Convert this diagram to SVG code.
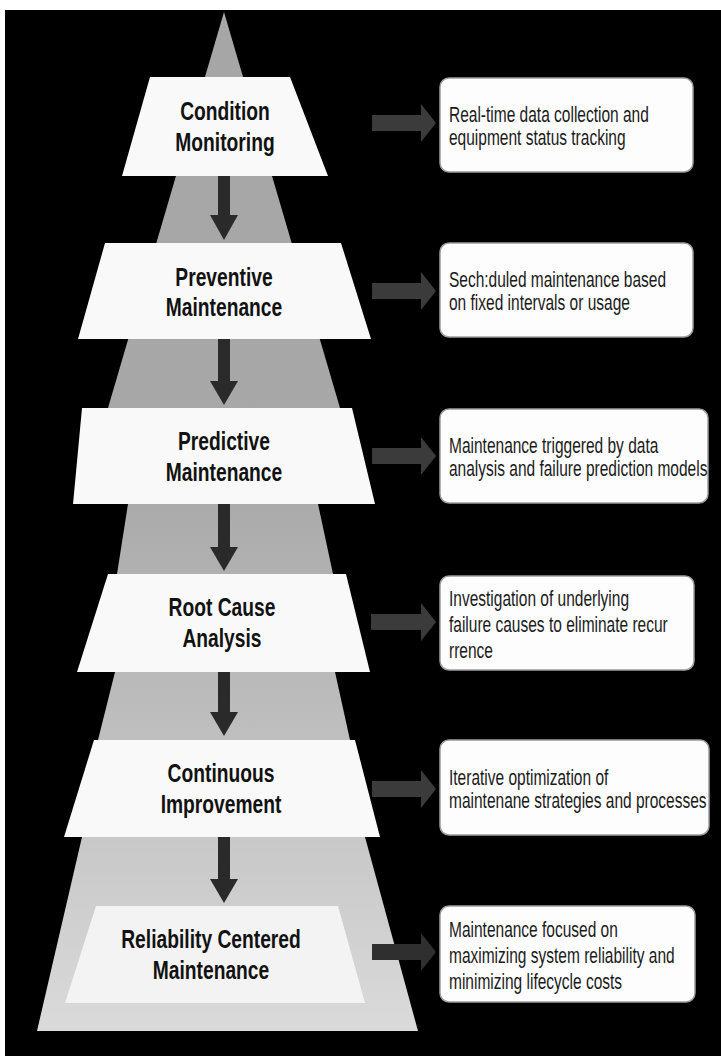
<svg xmlns="http://www.w3.org/2000/svg" width="721" height="1056" viewBox="0 0 721 1056">
  <defs>
    <linearGradient id="pyr" gradientUnits="userSpaceOnUse" x1="0" y1="12" x2="0" y2="1031">
      <stop offset="0" stop-color="#a6a6a6"/>
      <stop offset="0.45" stop-color="#a8a8a8"/>
      <stop offset="0.75" stop-color="#c2c2c2"/>
      <stop offset="1" stop-color="#dadada"/>
    </linearGradient>
    <style>
      .band { fill: url(#pyr); }
      .tier { fill: #f9f9f9; }
      .tier-last { fill: #f3f3f3; }
      .title { font-family: "Liberation Sans", Arial, sans-serif; font-weight: bold; font-size: 26px; fill: #121212; text-anchor: middle; }
      .card { fill: #fdfdfd; stroke: #9c9c9c; stroke-width: 1.5; }
      .desc { font-family: "Liberation Sans", Arial, sans-serif; font-size: 22px; fill: #1b1b1b; }
      .down { fill: #2a2a2a; }
      .side { fill: #3b3b3b; }
      .side-dark { fill: #2f2f2f; }
    </style>
  </defs>

  <!-- canvas -->
  <rect x="0" y="0" width="721" height="1056" fill="#ffffff"/>
  <rect x="5" y="10" width="716" height="1046" fill="#000000"/>

  <!-- pyramid backdrop -->
  <g id="pyramid">
    <polygon class="band" points="224,12 340,408 108,408"/>
    <polygon class="band" points="128,504 318,504 333,574 117,574"/>
    <polygon class="band" points="115,672 335,672 350,740 98,740"/>
    <polygon class="band" points="82,837 365,837 418,1031 37,1031"/>
  </g>

  <!-- connectors -->
  <g id="connectors">
    <!-- downward flow between tiers -->
    <polygon class="down" points="218,176 230,176 230,215 238,215 224,240 210,215 218,215"/>
    <polygon class="down" points="218,339 230,339 230,381 238,381 224,405 210,381 218,381"/>
    <polygon class="down" points="218,504 230,504 230,547 238,547 224,571 210,547 218,547"/>
    <polygon class="down" points="218,672 230,672 230,712 238,712 224,736 210,712 218,712"/>
    <polygon class="down" points="218,837 230,837 230,879 238,879 224,903 210,879 218,879"/>
    <!-- tier to description -->
    <polygon class="side" points="372,115 421,115 421,104 436,123 421,142 421,131 372,131"/>
    <polygon class="side" points="372,283 421,283 421,272 436,291 421,310 421,299 372,299"/>
    <polygon class="side" points="372,448 421,448 421,437 436,456 421,475 421,464 372,464"/>
    <polygon class="side" points="371,614 421,614 421,603 436,622 421,641 421,630 371,630"/>
    <polygon class="side" points="372,781 421,781 421,770 436,789 421,808 421,797 372,797"/>
    <polygon class="side-dark" points="372,944 421,944 421,933 436,952 421,971 421,960 372,960"/>
  </g>

  <!-- tiers -->
  <g id="tier-condition-monitoring">
    <polygon class="tier" points="150,77 290,77 328,176 122,176"/>
    <text class="title" transform="translate(225 0) scale(0.74 1)"><tspan x="0" y="120">Condition</tspan><tspan x="0" y="151">Monitoring</tspan></text>
  </g>
  <g id="tier-preventive">
    <polygon class="tier" points="105,243 341,243 371,339 78,339"/>
    <text class="title" transform="translate(224 0) scale(0.74 1)"><tspan x="0" y="286">Preventive</tspan><tspan x="0" y="316">Maintenance</tspan></text>
  </g>
  <g id="tier-predictive">
    <polygon class="tier" points="82,408 352,408 375,504 73,504"/>
    <text class="title" transform="translate(224 0) scale(0.74 1)"><tspan x="0" y="450">Predictive</tspan><tspan x="0" y="481">Maintenance</tspan></text>
  </g>
  <g id="tier-root-cause">
    <polygon class="tier" points="108,574 346,574 370,672 77,672"/>
    <text class="title" transform="translate(222 0) scale(0.74 1)"><tspan x="0" y="616">Root Cause</tspan><tspan x="0" y="647">Analysis</tspan></text>
  </g>
  <g id="tier-continuous">
    <polygon class="tier" points="94,740 355,740 380,837 64,837"/>
    <text class="title" transform="translate(221 0) scale(0.74 1)"><tspan x="0" y="782">Continuous</tspan><tspan x="0" y="813">Improvement</tspan></text>
  </g>
  <g id="tier-rcm">
    <polygon class="tier-last" points="96,906 338,906 365,1003 65,1003"/>
    <text class="title" transform="translate(211 0) scale(0.74 1)"><tspan x="0" y="948">Reliability Centered</tspan><tspan x="0" y="979">Maintenance</tspan></text>
  </g>

  <!-- description cards -->
  <g id="card-condition-monitoring">
    <rect class="card" x="440" y="78" width="253" height="94" rx="9"/>
    <text class="desc" transform="translate(449 0) scale(0.705 1)"><tspan x="0" y="122">Real-time data collection and</tspan><tspan x="0" y="145">equipment status tracking</tspan></text>
  </g>
  <g id="card-preventive">
    <rect class="card" x="440" y="243" width="253" height="94" rx="9"/>
    <text class="desc" transform="translate(449 0) scale(0.705 1)"><tspan x="0" y="287">Sech:duled maintenance based</tspan><tspan x="0" y="310">on fixed intervals or usage</tspan></text>
  </g>
  <g id="card-predictive">
    <rect class="card" x="440" y="409" width="268" height="94" rx="9"/>
    <text class="desc" transform="translate(449 0) scale(0.705 1)"><tspan x="0" y="453">Maintenance triggered by data</tspan><tspan x="0" y="476">analysis and failure prediction models</tspan></text>
  </g>
  <g id="card-root-cause">
    <rect class="card" x="440" y="576" width="254" height="94" rx="9"/>
    <text class="desc" transform="translate(449 0) scale(0.705 1)"><tspan x="0" y="606">Investigation of underlying</tspan><tspan x="0" y="632">failure causes to eliminate recur</tspan><tspan x="0" y="658">rrence</tspan></text>
  </g>
  <g id="card-continuous">
    <rect class="card" x="440" y="740" width="269" height="95" rx="9"/>
    <text class="desc" transform="translate(449 0) scale(0.705 1)"><tspan x="0" y="785">Iterative optimization of</tspan><tspan x="0" y="808">maintenane strategies and processes</tspan></text>
  </g>
  <g id="card-rcm">
    <rect class="card" x="440" y="906" width="255" height="96" rx="9"/>
    <text class="desc" transform="translate(449 0) scale(0.705 1)"><tspan x="0" y="937">Maintenance focused on</tspan><tspan x="0" y="963">maximizing system reliability and</tspan><tspan x="0" y="989">minimizing lifecycle costs</tspan></text>
  </g>
</svg>
